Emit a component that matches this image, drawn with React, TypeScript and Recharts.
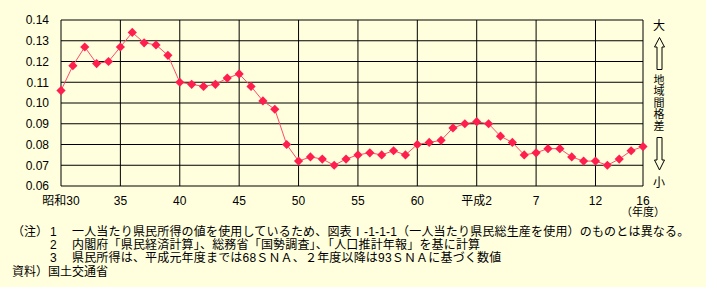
import React from "react";
import { LineChart, Line, XAxis, YAxis, CartesianGrid } from "recharts";

const fiscalYears = [
  "昭和30", "31", "32", "33", "34", "35", "36", "37", "38", "39",
  "40", "41", "42", "43", "44", "45", "46", "47", "48", "49",
  "50", "51", "52", "53", "54", "55", "56", "57", "58", "59",
  "60", "61", "62", "63", "平成元", "平成2", "3", "4", "5", "6",
  "7", "8", "9", "10", "11", "12", "13", "14", "15", "16",
];

// 地域間格差の指標（一人当たり県民所得）
const disparity = [
  0.106, 0.118, 0.127, 0.119, 0.12, 0.127, 0.134, 0.129, 0.128, 0.123,
  0.11, 0.109, 0.108, 0.109, 0.112, 0.114, 0.108, 0.101, 0.097, 0.08,
  0.072, 0.074, 0.073, 0.07, 0.073, 0.075, 0.076, 0.075, 0.077, 0.075,
  0.08, 0.081, 0.082, 0.088, 0.09, 0.091, 0.09, 0.084, 0.081, 0.075,
  0.076, 0.078, 0.078, 0.074, 0.072, 0.072, 0.07, 0.073, 0.077, 0.079,
];

const tickIndexes = [0, 5, 10, 15, 20, 25, 30, 35, 40, 45, 49];
const tickLabels = ["昭和30", "35", "40", "45", "50", "55", "60", "平成2", "7", "12", "16"];
const yTicks = [0.06, 0.07, 0.08, 0.09, 0.1, 0.11, 0.12, 0.13, 0.14];

const notes = [
  { head: "（注）", num: "1", text: "一人当たり県民所得の値を使用しているため、図表Ⅰ-1-1-1（一人当たり県民総生産を使用）のものとは異なる。" },
  { head: "", num: "2", text: "内閣府「県民経済計算」、総務省「国勢調査」、「人口推計年報」を基に計算" },
  { head: "", num: "3", text: "県民所得は、平成元年度までは68ＳＮＡ、２年度以降は93ＳＮＡに基づく数値" },
];

const BG = "#ffffdd";
const FONT = "'Liberation Sans', 'Noto Sans CJK JP', sans-serif";

const Diamond = (props: any) => {
  const { cx, cy, index } = props;
  if (cx == null || cy == null) return null;
  const r = 4.6;
  return (
    <polygon
      key={`d-${index}`}
      points={`${cx},${cy - r} ${cx + r},${cy} ${cx},${cy + r} ${cx - r},${cy}`}
      fill="#ff1f4f"
    />
  );
};

export default function App() {
  const data = fiscalYears.map((label, i) => ({ i, label, value: disparity[i] }));

  return (
    <div
      style={{
        position: "absolute",
        left: 0,
        top: 0,
        width: 706,
        height: 287,
        background: BG,
        fontFamily: FONT,
        color: "#000",
        overflow: "hidden",
      }}
    >
      <LineChart
        width={706}
        height={287}
        data={data}
        margin={{ top: 20, right: 63, left: 0, bottom: 71 }}
      >
        <CartesianGrid stroke="#000" strokeWidth={1} horizontalValues={yTicks} />
        <XAxis
          dataKey="i"
          type="number"
          domain={[0, 49]}
          ticks={tickIndexes}
          tickFormatter={(v) => tickLabels[tickIndexes.indexOf(v)]}
          axisLine={false}
          tickLine={false}
          tickMargin={4}
          height={30}
          tick={{ fill: "#000", fontSize: 12, fontFamily: FONT }}
          interval={0}
        />
        <YAxis
          domain={[0.06, 0.14]}
          ticks={yTicks}
          tickFormatter={(v) => v.toFixed(2)}
          axisLine={false}
          tickLine={false}
          tickMargin={6}
          width={61}
          tick={{ fill: "#000", fontSize: 12, fontFamily: FONT }}
          interval={0}
        />
        <Line
          dataKey="value"
          stroke="#ff4a6a"
          strokeWidth={1}
          dot={<Diamond />}
          activeDot={false}
          isAnimationActive={false}
        />
      </LineChart>

      {/* 年度 */}
      <div style={{ position: "absolute", left: 613, top: 207, width: 60, textAlign: "center", fontSize: 11, lineHeight: "11px", whiteSpace: "nowrap" }}>
        （年度）
      </div>

      {/* 右側の 大 ↑ 地域間格差 ↓ 小 */}
      <div style={{ position: "absolute", left: 651, top: 19, width: 16, textAlign: "center", fontSize: 12, lineHeight: "14px" }}>大</div>
      <div
        style={{
          position: "absolute",
          left: 651,
          top: 74,
          width: 16,
          height: 60,
          writingMode: "vertical-rl",
          fontFamily: "'Noto Sans CJK JP', sans-serif",
          fontSize: 11,
          lineHeight: "16px",
          letterSpacing: 0.5,
          whiteSpace: "nowrap",
        }}
      >
        地域間格差
      </div>
      <div style={{ position: "absolute", left: 651, top: 176, width: 16, textAlign: "center", fontSize: 12, lineHeight: "14px" }}>小</div>
      <svg style={{ position: "absolute", left: 0, top: 0 }} width={706} height={287}>
        <polygon
          points="659.5,37.5 664.5,47 662,47 662,69.5 657,69.5 657,47 654.5,47"
          fill="none"
          stroke="#000"
          strokeWidth={1}
        />
        <polygon
          points="657,137.5 662,137.5 662,160 664.5,160 659.5,170 654.5,160 657,160"
          fill="none"
          stroke="#000"
          strokeWidth={1}
        />
      </svg>

      {/* 注記 */}
      {notes.map((n, k) => (
        <div key={k} style={{ position: "absolute", top: 225.5 + k * 13.4, left: 0, fontSize: 12, lineHeight: "13px", whiteSpace: "nowrap" }}>
          <span style={{ position: "absolute", left: 12 }}>{n.head}</span>
          <span style={{ position: "absolute", left: 50 }}>{n.num}</span>
          <span style={{ position: "absolute", left: 72, letterSpacing: 0.18 }}>{n.text}</span>
        </div>
      ))}
      <div style={{ position: "absolute", top: 266, left: 12, fontSize: 12, lineHeight: "13px", whiteSpace: "nowrap" }}>
        資料）国土交通省
      </div>
    </div>
  );
}
